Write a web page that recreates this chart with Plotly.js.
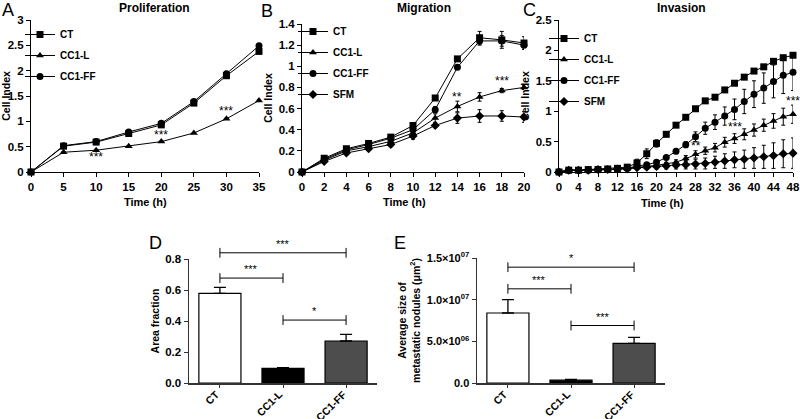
<!DOCTYPE html>
<html><head><meta charset="utf-8">
<script src="https://cdn.plot.ly/plotly-3.0.1.min.js"></script>
<style>html,body{margin:0;padding:0;background:#fff}#c{width:800px;height:419px}</style>
</head><body><div id="c"></div>
<script>
// ---------- Panel A: Proliferation ----------
const timeA = [0,5,10,15,20,25,30,35];
const profCT = [0,0.51,0.59,0.76,0.93,1.36,1.90,2.38];
const profL  = [0,0.39,0.43,0.51,0.60,0.77,1.05,1.41];
const profFF = [0,0.52,0.60,0.79,0.96,1.39,1.94,2.49];
const profErrCT = [0,0.01,0.01,0.01,0.01,0.01,0.02,0.04];
const profErrL  = [0,0.01,0.01,0.01,0.01,0.01,0.01,0.02];
const profErrFF = [0,0.01,0.01,0.01,0.01,0.01,0.02,0.03];
const sigA = {x:[10,20,30], y:[0.30,0.74,1.2], text:['***','***','***']};

// ---------- Panel B: Migration ----------
const timeB = [0,2,4,6,8,10,12,14,16,18,20];
const migCT  = [0,0.13,0.22,0.27,0.33,0.44,0.70,1.07,1.27,1.25,1.22];
const migL   = [0,0.11,0.20,0.24,0.29,0.37,0.51,0.62,0.71,0.77,0.80];
const migFF  = [0,0.12,0.21,0.26,0.32,0.40,0.59,0.99,1.24,1.24,1.20];
const migSFM = [0,0.10,0.18,0.22,0.26,0.34,0.44,0.51,0.53,0.53,0.52];
const migErrCT  = [0,0.01,0.01,0.02,0.02,0.02,0.02,0.02,0.06,0.08,0.06];
const migErrL   = [0,0.01,0.01,0.01,0.02,0.03,0.04,0.05,0.04,0.02,0.02];
const migErrFF  = [0,0.01,0.01,0.02,0.03,0.03,0.03,0.02,0.04,0.05,0.04];
const migErrSFM = [0,0.01,0.01,0.01,0.02,0.03,0.02,0.05,0.06,0.05,0.05];
const sigB = {x:[14,18], y:[0.71,0.86], text:['**','***']};

// ---------- Panel C: Invasion ----------
const timeC = [0,2,4,6,8,10,12,14,16,18,20,22,24,26,28,30,32,34,36,38,40,42,44,46,48];
const invCT  = [0,0.03,0.03,0.04,0.04,0.05,0.06,0.08,0.15,0.30,0.47,0.62,0.77,0.90,1.04,1.17,1.23,1.35,1.46,1.56,1.66,1.73,1.82,1.88,1.92];
const invL   = [0,0.03,0.03,0.03,0.04,0.04,0.05,0.06,0.08,0.09,0.11,0.13,0.16,0.22,0.29,0.35,0.40,0.49,0.55,0.62,0.69,0.77,0.84,0.91,0.95];
const invFF  = [0,0.03,0.03,0.03,0.04,0.04,0.05,0.06,0.10,0.12,0.16,0.24,0.34,0.45,0.58,0.72,0.82,0.92,1.03,1.16,1.28,1.38,1.49,1.59,1.64];
const invSFM = [0,0.03,0.03,0.03,0.04,0.04,0.05,0.05,0.07,0.08,0.09,0.10,0.11,0.12,0.13,0.14,0.16,0.18,0.20,0.21,0.23,0.25,0.27,0.30,0.31];
const invErrCT  = [0,0.01,0.01,0.01,0.01,0.01,0.01,0.02,0.06,0.08,0.06,0.04,0.02,0.02,0.02,0.02,0.02,0.02,0.02,0.02,0.02,0.02,0.02,0.03,0.03];
const invErrL   = [0,0.01,0.01,0.01,0.01,0.01,0.01,0.01,0.02,0.02,0.03,0.03,0.04,0.05,0.06,0.06,0.07,0.08,0.08,0.09,0.10,0.10,0.12,0.14,0.15];
const invErrFF  = [0,0.01,0.01,0.01,0.01,0.01,0.01,0.02,0.03,0.03,0.03,0.03,0.04,0.05,0.08,0.10,0.12,0.15,0.17,0.20,0.22,0.25,0.27,0.30,0.30];
const invErrSFM = [0,0.01,0.01,0.01,0.01,0.01,0.01,0.01,0.02,0.03,0.04,0.05,0.06,0.07,0.08,0.09,0.10,0.12,0.13,0.15,0.17,0.19,0.21,0.23,0.25];
const sigC = {x:[28,36,48], y:[0.42,0.74,1.16], text:['**','***','***']};

// ---------- Panel D / E: bars ----------
const groups = ['CT','CC1-L','CC1-FF'];
const barColors = ['#ffffff','#000000','#4d4d4d'];
const areaFrac = [0.578,0.095,0.271];
const areaErr  = [0.039,0.004,0.043];
const noduleSize = [8.4e6,3.4e5,4.76e6];
const noduleErr  = [1.6e6,1.0e5,0.72e6];
const sigD = {from:[0,0,1], to:[2,1,2], y:[0.84,0.677,0.406], text:['***','***','*']};
const sigE = {from:[0,0,1], to:[2,1,2], y:[1.39e7,1.13e7,0.69e7], text:['*','***','***']};
const eTickVals = [0,5e6,1e7,1.5e7];
const eTickText = ['0.0','5.0×10<sup>06</sup>','1.0×10<sup>07</sup>','1.5×10<sup>07</sup>'];

const FONT = 'Liberation Sans, Arial, sans-serif';
const symbols = {CT:'square', 'CC1-L':'triangle-up', 'CC1-FF':'circle', SFM:'diamond'};

function lineTrace(x, y, err, name, xa, ya, leg){
  return {x:x, y:y, type:'scatter', mode:'lines+markers', name:name,
    xaxis:xa, yaxis:ya, legend:leg, legendgroup:leg+name, cliponaxis:false,
    line:{color:'#000', width:1},
    marker:{symbol:symbols[name], color:'#000', size:7},
    error_y:{type:'data', array:err, visible:true, color:'#000', thickness:1, width:2}};
}
const traces = [
  lineTrace(timeA, profCT, profErrCT, 'CT', 'x','y','legend'),
  lineTrace(timeA, profL, profErrL, 'CC1-L', 'x','y','legend'),
  lineTrace(timeA, profFF, profErrFF, 'CC1-FF', 'x','y','legend'),
  lineTrace(timeB, migCT, migErrCT, 'CT', 'x2','y2','legend2'),
  lineTrace(timeB, migL, migErrL, 'CC1-L', 'x2','y2','legend2'),
  lineTrace(timeB, migFF, migErrFF, 'CC1-FF', 'x2','y2','legend2'),
  lineTrace(timeB, migSFM, migErrSFM, 'SFM', 'x2','y2','legend2'),
  lineTrace(timeC, invCT, invErrCT, 'CT', 'x3','y3','legend3'),
  lineTrace(timeC, invL, invErrL, 'CC1-L', 'x3','y3','legend3'),
  lineTrace(timeC, invFF, invErrFF, 'CC1-FF', 'x3','y3','legend3'),
  lineTrace(timeC, invSFM, invErrSFM, 'SFM', 'x3','y3','legend3'),
];
function barTrace(vals, errs, xa, ya){
  return {x:groups, y:vals, type:'bar', xaxis:xa, yaxis:ya, showlegend:false, width:0.667,
    marker:{color:barColors, line:{color:'#000', width:1.2}},
    error_y:{type:'data', symmetric:false, array:errs, arrayminus:errs.map(()=>0), color:'#000', thickness:1.3, width:6}};
}
traces.push(barTrace(areaFrac, areaErr, 'x4','y4'));
traces.push(barTrace(noduleSize, noduleErr, 'x5','y5'));

const annotations = [];
function sigBrackets(sig, xa, ya){
  for (let i=0;i<sig.y.length;i++){
    traces.push({x:[groups[sig.from[i]], groups[sig.to[i]]], y:[sig.y[i], sig.y[i]], type:'scatter', mode:'lines+markers',
      xaxis:xa, yaxis:ya, showlegend:false, cliponaxis:false, line:{color:'#000', width:1},
      marker:{symbol:'line-ns-open', size:7, color:'#000', line:{width:1, color:'#000'}}});
    const mid = (sig.from[i]+sig.to[i])/2;
    annotations.push({xref:xa, yref:ya, x:mid, y:sig.y[i], text:sig.text[i], showarrow:false, yanchor:'bottom', yshift:1,
      font:{family:FONT, size:11, color:'#000'}});
  }
}
// brackets of D drawn on a taller invisible axis with the same scale, so the top one is not clipped
sigBrackets(sigD,'x4','y6');
sigBrackets(sigE,'x5','y5');

function sigMarks(sig, xa, ya){
  for (let i=0;i<sig.x.length;i++){
    annotations.push({xref:xa, yref:ya, x:sig.x[i], y:sig.y[i], text:sig.text[i], showarrow:false,
      font:{family:FONT, size:12, color:'#000'}});
  }
}
sigMarks(sigA,'x','y'); sigMarks(sigB,'x2','y2'); sigMarks(sigC,'x3','y3');

// rotated category labels under the bar charts
function catLabels(xa){
  groups.forEach(g => annotations.push({xref:xa, yref:'paper', x:g, y:1-385/419, xanchor:'right', yanchor:'top', xshift:5,
    textangle:-45, text:'<b>'+g+'</b>', showarrow:false, font:{family:FONT, size:10.5, color:'#000'}}));
}
catLabels('x4'); catLabels('x5');

function paperText(x, y, text, size, bold){
  annotations.push({xref:'paper', yref:'paper', x:x/800, y:1-y/419, xanchor:'center', yanchor:'middle',
    text: bold?'<b>'+text+'</b>':text, showarrow:false, font:{family:FONT, size:size, color:'#000'}});
}
paperText(154, 8, 'Proliferation', 12, true);
paperText(424, 8, 'Migration', 12, true);
paperText(681, 8, 'Invasion', 12, true);
paperText(145, 202, 'Time (h)', 11, true);
paperText(404, 202, 'Time (h)', 11, true);
paperText(662, 203, 'Time (h)', 11, true);
paperText(8, 10, 'A', 18, false);
paperText(267, 11, 'B', 18, false);
paperText(529, 10, 'C', 18, false);
paperText(155, 243, 'D', 18, false);
paperText(400, 243, 'E', 18, false);

const tickFont = {family:FONT, size:11.5, color:'#000', weight:'bold'};
const yTitleFont = {family:FONT, size:10.5, color:'#000', weight:'bold'};
function lineAxis(dom, range, dtick, extra){
  return Object.assign({domain:dom, range:range, dtick:dtick, showgrid:false, zeroline:false, showline:true,
    linecolor:'#000', linewidth:1, ticks:'outside', ticklen:4, tickcolor:'#000', tickfont:tickFont, fixedrange:true}, extra||{});
}
const yDomTop = [1-172/419, 1-20/419];
const legFont = {family:FONT, size:10, weight:'bold', color:'#000'};
const dPxPerUnit = 124/0.8;
const layout = {
  width:800, height:419, margin:{l:0,r:0,t:0,b:0}, paper_bgcolor:'#fff', plot_bgcolor:'rgba(0,0,0,0)',
  font:{family:FONT, color:'#000'},
  showlegend:true,
  xaxis: lineAxis([31/800, 259/800], [0,35], 5, {anchor:'y'}),
  yaxis: lineAxis(yDomTop, [0,3], 0.5, {anchor:'x', title:{text:'Cell Index', font:yTitleFont, standoff:4}}),
  xaxis2: lineAxis([302/800, 524/800], [0,20], 2, {anchor:'y2'}),
  yaxis2: lineAxis([1-172/419, 1-24/419], [0,1.4], 0.2, {anchor:'x2', title:{text:'Cell Index', font:yTitleFont, standoff:4}}),
  xaxis3: lineAxis([559/800, 793/800], [0,48], 4, {anchor:'y3'}),
  yaxis3: lineAxis(yDomTop, [0,2.5], 0.5, {anchor:'x3', title:{text:'Cell Index', font:yTitleFont, standoff:4}}),
  xaxis4: {domain:[189/800, 377/800], range:[-0.49,2.49], type:'category', anchor:'y4', showline:true, linecolor:'#333', linewidth:1.5,
    ticks:'outside', ticklen:3, tickcolor:'#333', showticklabels:false, showgrid:false, zeroline:false, fixedrange:true},
  yaxis4: {domain:[1-383/419, 1-259/419], range:[0,0.8], dtick:0.2, tickformat:'.1f', anchor:'x4', showline:true, linecolor:'#333', linewidth:1.5,
    ticks:'outside', ticklen:4, tickcolor:'#333', tickfont:tickFont, showgrid:false, zeroline:false, fixedrange:true,
    title:{text:'Area fraction', font:yTitleFont, standoff:3}},
  yaxis6: {domain:[1-383/419, 1-240/419], range:[0,143/dPxPerUnit], anchor:'x4', visible:false, fixedrange:true},
  xaxis5: {domain:[477/800, 665/800], range:[-0.49,2.49], type:'category', anchor:'y5', showline:true, linecolor:'#333', linewidth:1.5,
    ticks:'outside', ticklen:3, tickcolor:'#333', showticklabels:false, showgrid:false, zeroline:false, fixedrange:true},
  yaxis5: {domain:[1-383/419, 1-258/419], range:[0,1.5e7], tickvals:eTickVals, ticktext:eTickText, anchor:'x5', showline:true, linecolor:'#333', linewidth:1.5,
    ticks:'outside', ticklen:4, tickcolor:'#333', tickfont:{family:FONT, size:11, color:'#000', weight:'bold'}, showgrid:false, zeroline:false, fixedrange:true,
    title:{text:'Average size of<br>metastatic nodules (μm<sup>2</sup>)', font:yTitleFont, standoff:4}},
  legend:  {x:20/800, y:1-20/419, xanchor:'left', yanchor:'top', bgcolor:'rgba(0,0,0,0)', font:legFont, tracegroupgap:2, itemwidth:30},
  legend2: {x:293/800, y:1-17/419, xanchor:'left', yanchor:'top', bgcolor:'rgba(0,0,0,0)', font:legFont, tracegroupgap:2, itemwidth:30},
  legend3: {x:544/800, y:1-24/419, xanchor:'left', yanchor:'top', bgcolor:'rgba(0,0,0,0)', font:legFont, tracegroupgap:2, itemwidth:30},
  annotations: annotations
};
Plotly.newPlot('c', traces, layout, {displayModeBar:false, staticPlot:true});
</script></body></html>
